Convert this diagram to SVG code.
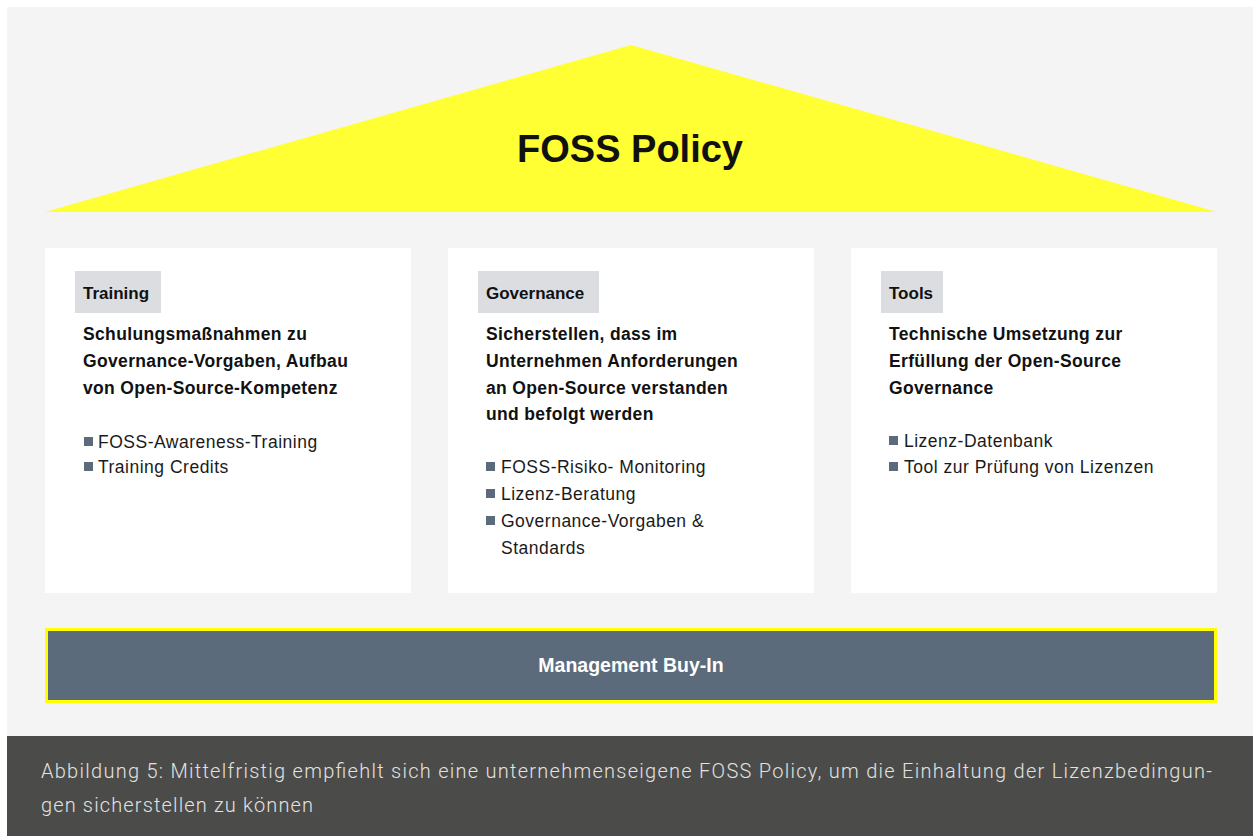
<svg xmlns="http://www.w3.org/2000/svg" width="1253" height="836" viewBox="0 0 1253 836">
  <style>
    .card { fill: #ffffff; }
    .tag { fill: #dcdde1; }
    .tag-text { font-family: "Liberation Sans", Arial, sans-serif; font-weight: bold; font-size: 17px; fill: #111111; }
    .desc { font-family: "Liberation Sans", Arial, sans-serif; font-weight: bold; font-size: 17.5px; letter-spacing: 0.35px; fill: #111111; }
    .item { font-family: "Liberation Sans", Arial, sans-serif; font-size: 17.5px; letter-spacing: 0.5px; fill: #1a1a1a; }
    .bullet { fill: #5b6b7b; }
    .caption { font-family: Roboto, "Liberation Sans", Arial, sans-serif; font-weight: 300; font-size: 20px; fill: #e2e2e0; }
  </style>

  <!-- page -->
  <rect x="0" y="0" width="1253" height="836" fill="#ffffff"/>
  <rect x="7" y="7" width="1246" height="729" fill="#f4f4f4"/>

  <!-- roof -->
  <g id="roof">
    <polygon points="45,212 631,45 1217,212" fill="#ffff33"/>
    <text x="630" y="162" text-anchor="middle" font-family="'Liberation Sans', Arial, sans-serif" font-weight="bold" font-size="38" fill="#111111">FOSS Policy</text>
  </g>

  <!-- pillar: Training -->
  <g id="training">
    <rect class="card" x="45" y="248" width="366" height="345"/>
    <rect class="tag" x="75" y="271" width="86" height="42"/>
    <text class="tag-text" x="83" y="299">Training</text>
    <text class="desc" x="83" y="340">Schulungsmaßnahmen zu</text>
    <text class="desc" x="83" y="367">Governance-Vorgaben, Aufbau</text>
    <text class="desc" x="83" y="394">von Open-Source-Kompetenz</text>
    <rect class="bullet" x="84" y="437" width="9" height="9"/>
    <text class="item" x="98" y="448">FOSS-Awareness-Training</text>
    <rect class="bullet" x="84" y="462" width="9" height="9"/>
    <text class="item" x="98" y="473">Training Credits</text>
  </g>

  <!-- pillar: Governance -->
  <g id="governance">
    <rect class="card" x="448" y="248" width="366" height="345"/>
    <rect class="tag" x="478" y="271" width="121" height="42"/>
    <text class="tag-text" x="486" y="299">Governance</text>
    <text class="desc" x="486" y="340">Sicherstellen, dass im</text>
    <text class="desc" x="486" y="367">Unternehmen Anforderungen</text>
    <text class="desc" x="486" y="394">an Open-Source verstanden</text>
    <text class="desc" x="486" y="420">und befolgt werden</text>
    <rect class="bullet" x="486" y="462" width="9" height="9"/>
    <text class="item" x="501" y="473">FOSS-Risiko- Monitoring</text>
    <rect class="bullet" x="486" y="489" width="9" height="9"/>
    <text class="item" x="501" y="500">Lizenz-Beratung</text>
    <rect class="bullet" x="486" y="516" width="9" height="9"/>
    <text class="item" x="501" y="527">Governance-Vorgaben &amp;</text>
    <text class="item" x="501" y="554">Standards</text>
  </g>

  <!-- pillar: Tools -->
  <g id="tools">
    <rect class="card" x="851" y="248" width="366" height="345"/>
    <rect class="tag" x="881" y="271" width="62" height="42"/>
    <text class="tag-text" x="889" y="299">Tools</text>
    <text class="desc" x="889" y="340">Technische Umsetzung zur</text>
    <text class="desc" x="889" y="367">Erfüllung der Open-Source</text>
    <text class="desc" x="889" y="394">Governance</text>
    <rect class="bullet" x="889" y="436" width="9" height="9"/>
    <text class="item" x="904" y="447">Lizenz-Datenbank</text>
    <rect class="bullet" x="889" y="462" width="9" height="9"/>
    <text class="item" x="904" y="473">Tool zur Prüfung von Lizenzen</text>
  </g>

  <!-- foundation -->
  <g id="management">
    <rect x="46.5" y="629.5" width="1169" height="72" fill="#5b6b7b" stroke="#ffff00" stroke-width="3"/>
    <text x="631" y="672" text-anchor="middle" font-family="'Liberation Sans', Arial, sans-serif" font-weight="bold" font-size="19.5" fill="#ffffff">Management Buy-In</text>
  </g>

  <!-- caption band -->
  <g id="caption">
    <rect x="7" y="736" width="1246" height="100" fill="#4b4b49"/>
    <text class="caption" x="41" y="778" textLength="1171" lengthAdjust="spacing">Abbildung 5: Mittelfristig empfiehlt sich eine unternehmenseigene FOSS Policy, um die Einhaltung der Lizenzbedingun-</text>
    <text class="caption" x="41" y="812" textLength="272" lengthAdjust="spacing">gen sicherstellen zu können</text>
  </g>
</svg>
